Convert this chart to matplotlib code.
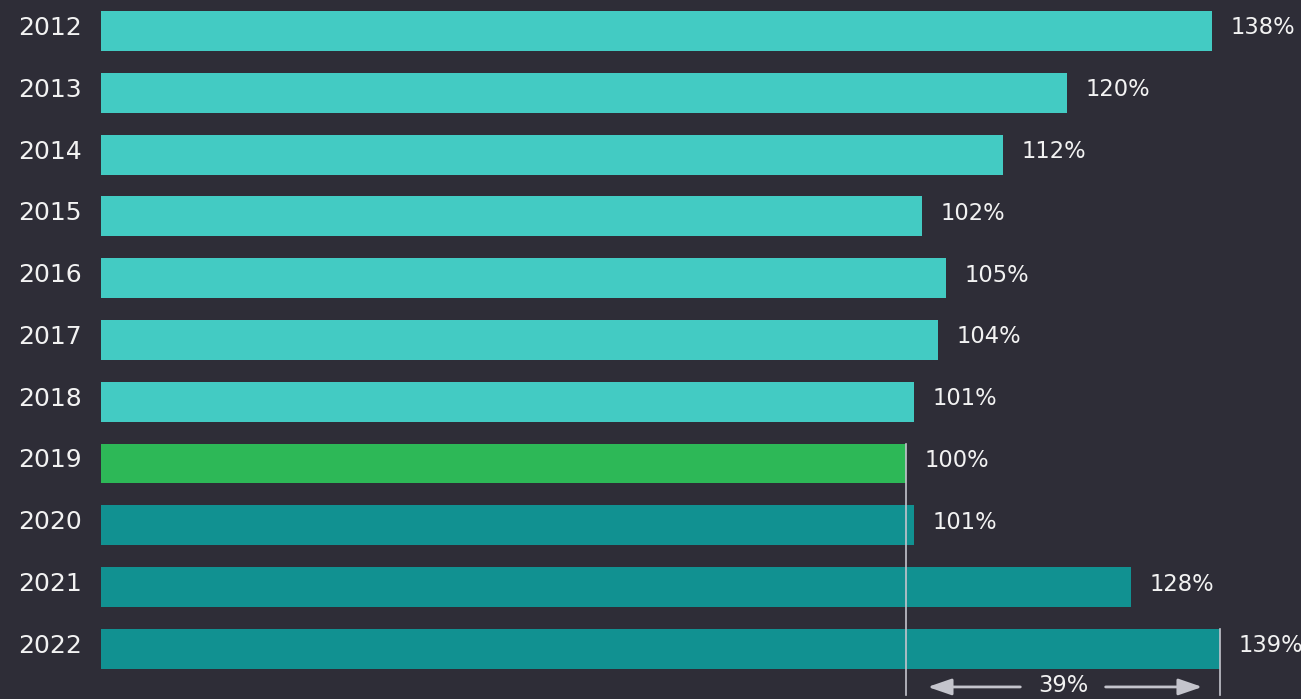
import matplotlib
matplotlib.use("Agg")
import matplotlib.pyplot as plt

# data
years = ["2012", "2013", "2014", "2015", "2016", "2017", "2018", "2019", "2020", "2021", "2022"]
values = [138, 120, 112, 102, 105, 104, 101, 100, 101, 128, 139]
labels = ["138%", "120%", "112%", "102%", "105%", "104%", "101%", "100%", "101%", "128%", "139%"]
diff_label = "39%"

bg = "#2e2d37"
light = "#43cbc3"
green = "#2db857"
dark = "#119191"
line_col = "#c4c4cc"
text_col = "#f2f2f2"

colors = [light] * 7 + [green] + [dark] * 3

fig = plt.figure(figsize=(13.01, 6.99), dpi=100, facecolor=bg)
ax = fig.add_axes([0, 0, 1, 1], facecolor=bg)

px = 8.05  # pixels per percent
ax.set_xlim(-101 / px, (1301 - 101) / px)
ax.set_ylim(10.81, -0.502)
ax.axis("off")

ypos = list(range(len(years)))
ax.barh(ypos, values, height=0.645, color=colors)

dy = -0.05  # text sits a little above bar centre
for y, yr, v, lab in zip(ypos, years, values, labels):
    ax.text(-2.4, y + dy, yr, ha="right", va="center", fontsize=18, color=text_col)
    ax.text(v + 2.3, y + dy, lab, ha="left", va="center", fontsize=16.3, color=text_col)

# reference lines at 2019 and 2022
i19 = years.index("2019")
i22 = years.index("2022")
ax.plot([values[i19], values[i19]], [i19 - 0.32, 10.74], color=line_col, lw=1.2)
ax.plot([values[i22], values[i22]], [i22 - 0.32, 10.74], color=line_col, lw=1.2)

# difference arrows
ya = 10.615
mid = (values[i19] + values[i22]) / 2
ax.text(mid, ya - 0.02, diff_label, ha="center", va="center", fontsize=16.3, color=text_col)
style = "-|>,head_length=1.45,head_width=0.5"
ax.annotate("", xy=(values[i19] + 2.7, ya), xytext=(mid - 5.3, ya),
            arrowprops=dict(arrowstyle=style, color=line_col, lw=2, shrinkA=0, shrinkB=0))
ax.annotate("", xy=(values[i22] - 2.2, ya), xytext=(mid + 5.3, ya),
            arrowprops=dict(arrowstyle=style, color=line_col, lw=2, shrinkA=0, shrinkB=0))

plt.savefig("out.png", dpi=100, facecolor=bg)
